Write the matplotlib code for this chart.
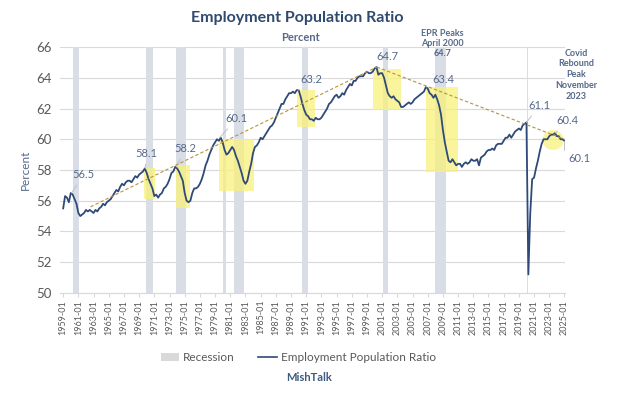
import matplotlib
matplotlib.use('Agg')
import matplotlib.pyplot as plt
from matplotlib.patches import Rectangle, Ellipse
from matplotlib.lines import Line2D
from matplotlib.patches import Patch

plt.rcParams['font.family'] = ['Lato', 'DejaVu Sans']

# quarterly readings (Jan, Apr, Jul, Oct) of the employment population ratio
years = list(range(1959, 2025))
epr = [
    55.5, 56.3, 56.2, 55.9,   # 1959
    56.5, 56.4, 56.1, 55.8,
    55.2, 55.0, 55.1, 55.2,
    55.4, 55.3, 55.4, 55.3,
    55.2, 55.4, 55.3, 55.5,
    55.6, 55.8, 55.7, 55.9,   # 1964
    56.0, 56.1, 56.3, 56.5,
    56.7, 56.6, 56.9, 57.1,
    57.0, 57.2, 57.3, 57.3,
    57.2, 57.4, 57.6, 57.5,
    57.7, 57.8, 57.9, 58.1,   # 1969
    57.8, 57.4, 57.1, 56.8,
    56.3, 56.4, 56.2, 56.4,
    56.5, 56.8, 56.9, 57.1,
    57.4, 57.8, 57.9, 58.2,
    58.1, 57.9, 57.6, 57.3,   # 1974
    56.5, 56.0, 55.9, 56.0,
    56.5, 56.8, 56.8, 56.9,
    57.1, 57.4, 57.8, 58.3,
    58.6, 59.0, 59.3, 59.6,
    59.8, 60.0, 59.9, 60.1,   # 1979
    59.8, 59.3, 59.0, 59.1,
    59.3, 59.5, 59.3, 58.9,
    58.6, 58.2, 57.8, 57.3,
    57.1, 57.3, 57.9, 58.4,
    59.1, 59.5, 59.6, 59.8,   # 1984
    60.1, 60.0, 60.2, 60.4,
    60.6, 60.8, 60.9, 61.1,
    61.4, 61.7, 62.0, 62.3,
    62.3, 62.6, 62.8, 63.0,
    63.0, 63.1, 63.0, 63.2,   # 1989
    63.2, 62.8, 62.3, 61.9,
    61.6, 61.5, 61.3, 61.3,
    61.2, 61.4, 61.3, 61.3,
    61.4, 61.6, 61.8, 62.0,
    62.3, 62.4, 62.6, 62.8,   # 1994
    62.9, 62.7, 62.8, 63.0,
    62.9, 63.2, 63.4, 63.6,
    63.5, 63.8, 63.8, 64.0,
    64.1, 64.1, 64.1, 64.3,
    64.4, 64.3, 64.3, 64.4,   # 1999
    64.6, 64.7, 64.2, 64.3,
    64.3, 64.0, 63.5, 63.0,
    62.8, 62.7, 62.8, 62.6,
    62.5, 62.4, 62.1, 62.1,
    62.2, 62.3, 62.4, 62.3,   # 2004
    62.4, 62.6, 62.7, 62.8,
    62.9, 63.0, 63.1, 63.4,
    63.3, 63.0, 62.9, 62.7,
    62.9, 62.6, 62.2, 61.6,
    60.6, 59.8, 59.2, 58.6,   # 2009
    58.5, 58.7, 58.5, 58.3,
    58.4, 58.4, 58.2, 58.4,
    58.5, 58.4, 58.5, 58.7,
    58.6, 58.6, 58.7, 58.3,
    58.8, 58.9, 59.0, 59.2,   # 2014
    59.3, 59.3, 59.4, 59.3,
    59.6, 59.7, 59.7, 59.7,
    59.9, 60.1, 60.1, 60.3,
    60.1, 60.3, 60.5, 60.6,
    60.7, 60.6, 60.9, 61.0,   # 2019
    61.1, 51.2, 55.2, 57.4,
    57.5, 58.1, 58.6, 59.2,
    59.7, 60.0, 60.0, 60.0,
    60.2, 60.3, 60.3, 60.4,
    60.2, 60.2, 60.0, 60.0,   # 2024
]
last_year = 2025
last_value = 59.9

recessions = [(1960.25, 1961.08), (1969.92, 1970.83), (1973.83, 1975.17),
              (1980.0, 1980.5), (1981.5, 1982.83), (1990.5, 1991.17),
              (2001.17, 2001.83), (2007.92, 2009.42), (2020.08, 2020.25)]

# yellow highlight boxes: (x0, x1, y0, y1)
highlights = [(1969.6, 1971.1, 56.1, 58.1), (1973.9, 1975.7, 55.5, 58.3),
              (1979.5, 1984.1, 56.6, 60.0), (1989.8, 1992.2, 60.8, 63.2),
              (1999.8, 2003.5, 61.9, 64.6), (2006.8, 2011.0, 57.9, 63.4)]

trend_up = ([1962.6, 2000.3], [55.6, 64.7])
trend_down = ([2000.3, 2025.0], [64.7, 60.0])

# data labels: text, point, text position
labels = [("56.5", (1960.1, 56.5), (1961.7, 57.7)),
          ("58.1", (1969.8, 58.1), (1970.0, 59.1)),
          ("58.2", (1973.9, 58.2), (1975.05, 59.4)),
          ("60.1", (1979.6, 60.1), (1981.85, 61.35)),
          ("63.2", (1989.9, 63.2), (1991.7, 63.9)),
          ("64.7", (2000.3, 64.7), (2001.75, 65.4)),
          ("63.4", (2006.85, 63.4), (2009.0, 63.9)),
          ("61.1", (2020.0, 61.1), (2021.75, 62.2)),
          ("60.4", (2023.8, 60.4), (2025.45, 61.2))]

x = []
for y in years:
    for q in range(4):
        x.append(y + q * 0.25)
x.append(last_year)
vals = epr + [last_value]

navy = '#2f4a78'
slate = '#56698a'
grey = '#595959'

fig = plt.figure(figsize=(6.2, 3.99), dpi=100)
ax = fig.add_axes([0.097, 0.266, 0.814, 0.616])

for a, b in recessions:
    ax.axvspan(a, b, color='#d9dde6', zorder=1, lw=0)

for x0, x1, y0, y1 in highlights:
    ax.add_patch(Rectangle((x0, y0), x1 - x0, y1 - y0, facecolor='#f9f27c',
                           alpha=0.75, lw=0, zorder=2))
ax.add_patch(Ellipse((2023.5, 59.95), 2.8, 1.3, facecolor='#f9f27c', alpha=0.75, lw=0, zorder=2))

ax.plot(x, vals, color=navy, lw=1.3, zorder=3)

ax.plot(trend_up[0], trend_up[1], color='#b8923a', lw=0.8, ls=(0, (3, 2)), zorder=5)
ax.plot(trend_down[0], trend_down[1], color='#b8923a', lw=0.8, ls=(0, (3, 2)), zorder=5)

for txt, pt, pos in labels:
    ax.annotate(txt, xy=pt, xytext=pos, ha='center', va='center', fontsize=8,
                color=slate, annotation_clip=False,
                arrowprops=dict(arrowstyle='-', color='#bfbfbf', lw=0.7, shrinkA=2, shrinkB=0))
ax.annotate("60.1", xy=(last_year, last_value), xytext=(2027.0, 58.75), ha='center',
            va='center', fontsize=8, color=slate, annotation_clip=False,
            arrowprops=dict(arrowstyle='-', color='#bfbfbf', lw=0.7, shrinkA=6, shrinkB=0,
                            connectionstyle='angle,angleA=0,angleB=90,rad=0'))

ax.text(2008.9, 66.25, "EPR Peaks\nApril 2000\n64.7", ha='center', va='center', fontsize=6.5,
        fontweight='bold', color=slate, linespacing=1.15, clip_on=False)
ax.text(2026.6, 64.2, "Covid\nRebound\nPeak\nNovember\n2023", ha='center', va='center',
        fontsize=6.5, fontweight='bold', color=slate, linespacing=1.25, clip_on=False)

ax.set_ylim(50, 66)
ax.set_xlim(1958.6, 2025.05)
ax.set_yticks(range(50, 67, 2))
ticks = list(range(1959, 2026, 2))
ax.set_xticks(ticks)
ax.set_xticklabels([f"{t}-01" for t in ticks], rotation=90, fontsize=6.5, color=grey)
ax.tick_params(axis='y', labelsize=9.5, labelcolor=grey, length=0, pad=6)
ax.tick_params(axis='x', length=3, color='#d9d9d9', pad=2)
ax.grid(axis='y', color='#d9d9d9', lw=0.8)
ax.set_axisbelow(True)
for s in ['top', 'right', 'left']:
    ax.spines[s].set_visible(False)
ax.spines['bottom'].set_color('#d9d9d9')
ax.set_ylabel('Percent', fontsize=8.5, color=slate, labelpad=4)

fig.text(0.48, 0.955, 'Employment Population Ratio', ha='center', va='center', fontsize=11.5,
         fontweight='bold', color='#2f4a6e')
fig.text(0.484, 0.907, 'Percent', ha='center', va='center', fontsize=8, fontweight='bold',
         color=slate)

handles = [Patch(facecolor='#d9d9d9', edgecolor='none', label='Recession'),
           Line2D([0], [0], color=navy, lw=1.2, label='Employment Population Ratio')]
fig.legend(handles=handles, loc='center', bbox_to_anchor=(0.481, 0.103), ncol=2, frameon=False,
           fontsize=8.5, labelcolor=grey, handlelength=1.6, handletextpad=0.3, columnspacing=2.0)
fig.text(0.498, 0.053, 'MishTalk', ha='center', va='center', fontsize=8, fontweight='bold',
         color='#3d5a80')

fig.savefig('out.png', dpi=100)
